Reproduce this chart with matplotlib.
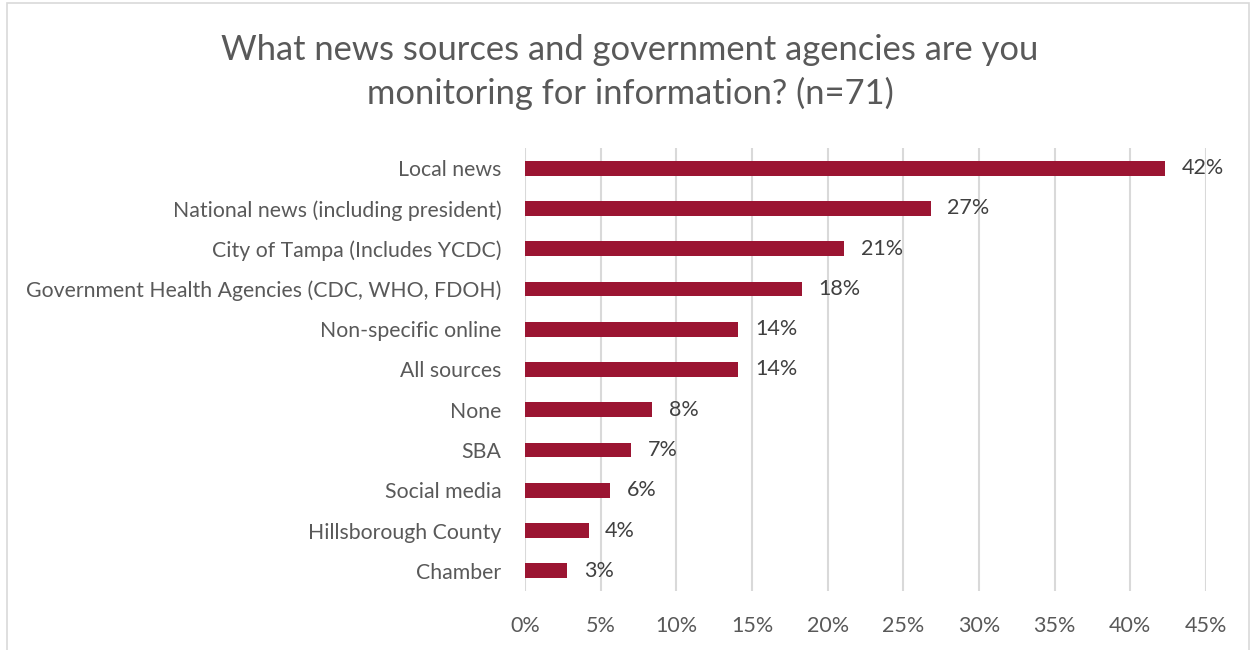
import matplotlib
matplotlib.use("Agg")
import matplotlib.pyplot as plt
from matplotlib.patches import Rectangle
from matplotlib.ticker import PercentFormatter, MultipleLocator

categories = [
    "Local news",
    "National news (including president)",
    "City of Tampa (Includes YCDC)",
    "Government Health Agencies (CDC, WHO, FDOH)",
    "Non-specific online",
    "All sources",
    "None",
    "SBA",
    "Social media",
    "Hillsborough County",
    "Chamber",
]
shares = [0.423, 0.268, 0.211, 0.183, 0.141, 0.141, 0.084, 0.070, 0.056, 0.042, 0.028]

title = "What news sources and government agencies are you\nmonitoring for information? (n=71)"

BAR = "#9B1532"
GRID = "#D9D9D9"
TEXT = "#595959"
LABEL = "#404040"

plt.rcParams["font.family"] = ["Lato", "DejaVu Sans"]

W, H = 1253, 650
fig = plt.figure(figsize=(W / 100, H / 100), dpi=100)
fig.patch.set_facecolor("white")

# chart frame
fig.add_artist(Rectangle((7 / W, -0.01), (1249 - 7) / W, 1 - 3 / H + 0.01,
                         transform=fig.transFigure, fill=False,
                         edgecolor="#D9D9D9", linewidth=1.2))

ax = fig.add_axes([525 / W, 1 - 591 / H, (1206 - 525) / W, (591 - 148) / H])

y = list(range(len(categories)))
ax.barh(y, shares, height=0.37, color=BAR, zorder=3)
for yi, v in zip(y, shares):
    ax.text(v + 0.011, yi, f"{v:.0%}", va="center", ha="left",
            fontsize=15.5, color=LABEL)

ax.set_yticks(y)
ax.set_yticklabels(categories, fontsize=15.3, color=TEXT)
ax.set_ylim(len(categories) - 0.5, -0.5)
ax.set_xlim(0, 0.45)
ax.xaxis.set_major_locator(MultipleLocator(0.05))
ax.xaxis.set_major_formatter(PercentFormatter(1.0, decimals=0))
ax.tick_params(axis="x", length=0, pad=18, labelsize=15.5, labelcolor=TEXT)
ax.tick_params(axis="y", length=0, pad=17)
ax.grid(axis="x", color=GRID, linewidth=1.5, zorder=0)
for s in ax.spines.values():
    s.set_visible(False)

fig.text(630 / W, 1 - 72 / H, title, ha="center", va="center",
         fontsize=24.8, color=TEXT, linespacing=1.4)

fig.savefig("out.png", dpi=100)
